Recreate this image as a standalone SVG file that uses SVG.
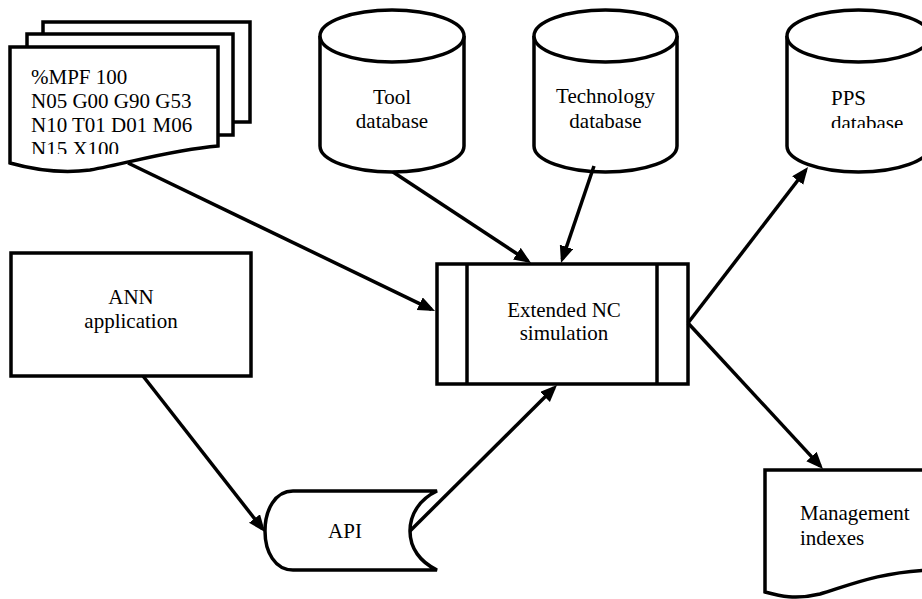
<svg xmlns="http://www.w3.org/2000/svg" width="922" height="599" viewBox="0 0 922 599">
<style>
.s{fill:#fff;stroke:#000;stroke-width:3.5;stroke-linejoin:miter}
.t{font-family:"Liberation Serif","Times New Roman",serif;font-size:21px;fill:#000}
.m{text-anchor:middle}
.c{stroke:#000;stroke-width:3.5;fill:none;marker-end:url(#ah)}
</style>
<defs>
<marker id="ah" markerUnits="userSpaceOnUse" markerWidth="18" markerHeight="15" viewBox="0 0 18 15" refX="13" refY="7" orient="auto">
<path d="M0,0 L17,7 L0,14 Z" fill="#000"/>
</marker>
<clipPath id="docclip"><rect x="10" y="47" width="208" height="107"/></clipPath>
<clipPath id="ppsclip"><rect x="787" y="60" width="140" height="68"/></clipPath>
</defs>
<rect width="922" height="599" fill="#fff"/>
<g id="nc-program">
<rect class="s" x="43" y="22" width="207" height="100"/>
<rect class="s" x="27" y="34" width="206" height="101"/>
<path class="s" d="M10,47 L218,47 L218,146 C170,150 130,163 90,170 C60,174 35,170 10,163 Z"/>
<g clip-path="url(#docclip)" class="t">
<text x="31" y="84">%MPF 100</text>
<text x="31" y="108">N05 G00 G90 G53</text>
<text x="31" y="132">N10 T01 D01 M06</text>
<text x="31" y="156">N15 X100</text>
</g>
</g>
<g id="tool-db">
<path class="s" d="M320,36 L320,146 A72,26 0 0 0 464,146 L464,36"/>
<ellipse class="s" cx="392" cy="36" rx="72" ry="26"/>
<text class="t m" x="392" y="104">Tool</text>
<text class="t m" x="392" y="128">database</text>
</g>
<g id="technology-db">
<path class="s" d="M534,36 L534,146 A71.5,26 0 0 0 677,146 L677,36"/>
<ellipse class="s" cx="605.5" cy="36" rx="71.5" ry="26"/>
<text class="t m" x="605.5" y="103">Technology</text>
<text class="t m" x="605.5" y="128">database</text>
</g>
<g id="pps-db">
<path class="s" d="M787,36 L787,146 A71.5,26 0 0 0 930,146 L930,36"/>
<ellipse class="s" cx="858.5" cy="36" rx="71.5" ry="26"/>
<g clip-path="url(#ppsclip)">
<text class="t" x="831" y="105">PPS</text>
<text class="t" x="831" y="130">database</text>
</g>
</g>
<g id="extended-nc">
<rect class="s" x="437" y="264" width="251" height="120"/>
<line x1="467" y1="264" x2="467" y2="384" stroke="#000" stroke-width="3.5"/>
<line x1="657" y1="264" x2="657" y2="384" stroke="#000" stroke-width="3.5"/>
<text class="t m" x="564" y="317">Extended NC</text>
<text class="t m" x="564" y="340">simulation</text>
</g>
<g id="ann">
<rect class="s" x="11" y="253" width="240" height="123"/>
<text class="t m" x="131" y="304">ANN</text>
<text class="t m" x="131" y="328">application</text>
</g>
<g id="api">
<path class="s" d="M437,491 L293,491 C275,491 265,510 265,531 C265,552 275,570 293,570 L437,570 C420,562 410,548 410,531 C410,514 420,499 437,491 Z"/>
<text class="t m" x="345" y="538">API</text>
</g>
<g id="management">
<path class="s" d="M765,470 L930,470 L930,570 C880,572 850,585 820,594 C795,600 780,596 765,592 Z"/>
<text class="t" x="800" y="520">Management</text>
<text class="t" x="800" y="545">indexes</text>
</g>
<g id="connectors">
<line class="c" x1="128" y1="163" x2="431.4" y2="309.3"/>
<line class="c" x1="393" y1="172" x2="527.7" y2="260.8"/>
<line class="c" x1="594" y1="166" x2="562.3" y2="259.2"/>
<line class="c" x1="688" y1="323" x2="805.6" y2="170.2"/>
<line class="c" x1="688" y1="323" x2="820.3" y2="466.1"/>
<line class="c" x1="143" y1="376" x2="262.5" y2="528.8"/>
<line class="c" x1="410" y1="531" x2="554.2" y2="387.8"/>
</g>
</svg>
